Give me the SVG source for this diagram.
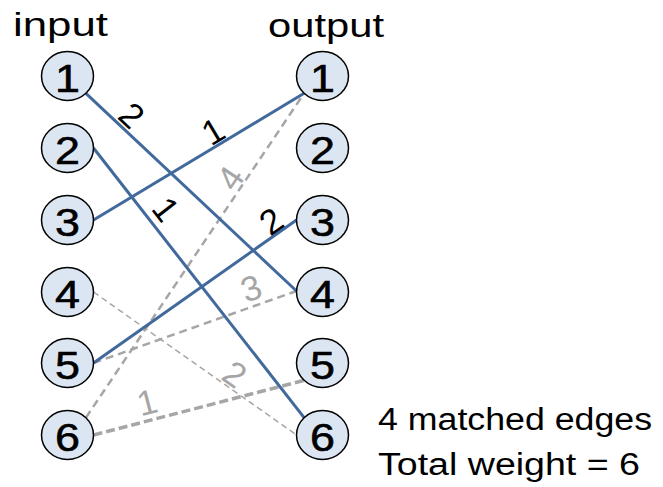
<svg xmlns="http://www.w3.org/2000/svg" width="663" height="487" viewBox="0 0 663 487">
<style>
.node ellipse{fill:#dce6f2;stroke:#000;stroke-width:1.5}
.node text{font-family:"Liberation Sans",Arial,sans-serif;font-size:39px;fill:#000;stroke:#000;stroke-width:0.6;text-anchor:middle}
.m{stroke:#41699c;stroke-width:3;fill:none}
.g{stroke:#a6a6a6;stroke-width:2.5;stroke-dasharray:8 5;fill:none}
.gt{stroke:#a6a6a6;stroke-width:1.5;stroke-dasharray:6 4;fill:none}
.gk{stroke:#a6a6a6;stroke-width:3.5;stroke-dasharray:9 4;fill:none}
.lb{font-family:"Liberation Sans",Arial,sans-serif;font-size:35px;text-anchor:middle}
.lk{fill:#000}
.lg{fill:#a6a6a6}
.hd{font-family:"Liberation Sans",Arial,sans-serif;font-size:34px;fill:#000}
.nt{font-family:"Liberation Sans",Arial,sans-serif;font-size:31px;fill:#000}
</style>
<rect width="663" height="487" fill="#fff"/>
<text class="hd" x="13" y="36" textLength="95" lengthAdjust="spacingAndGlyphs">input</text>
<text class="hd" x="268" y="37" textLength="116" lengthAdjust="spacingAndGlyphs">output</text>
<g id="connectors">
<line class="g" x1="85.9" y1="417.7" x2="304.1" y2="93.3"/>
<line class="g" x1="93.5" y1="363" x2="296.5" y2="291"/>
<line class="gt" x1="93.5" y1="292" x2="296.5" y2="435"/>
<line class="gk" x1="93.5" y1="435" x2="304.1" y2="380.3"/>
<line class="m" x1="85.9" y1="93.3" x2="296.5" y2="291"/>
<line class="m" x1="93.5" y1="148" x2="304.1" y2="417.7"/>
<line class="m" x1="93.5" y1="220" x2="304.1" y2="93.3"/>
<line class="m" x1="93.5" y1="363" x2="296.5" y2="220"/>
<g class="lb lk">
<text transform="translate(132,115) rotate(43.2)" y="12.5">2</text>
<text transform="translate(213,131) rotate(-31)" y="12.5">1</text>
<text transform="translate(166,209) rotate(52)" y="12.5">1</text>
<text transform="translate(271,221) rotate(-35.2)" y="12.5">2</text>
</g>
<g class="lb lg">
<text transform="translate(230,178) rotate(-56)" y="12.5">4</text>
<text transform="translate(251,288) rotate(-19.5)" y="12.5">3</text>
<text transform="translate(235,374) rotate(35.2)" y="12.5">2</text>
<text transform="translate(147,402) rotate(-14.6)" y="12.5">1</text>
</g>
</g>
<g id="in1" class="node"><ellipse cx="67.5" cy="76" rx="26" ry="24.5"/><text transform="translate(67.5,91.5) scale(1.15,1)">1</text></g>
<g id="in2" class="node"><ellipse cx="67.5" cy="148" rx="26" ry="24.5"/><text transform="translate(67.5,163.5) scale(1.15,1)">2</text></g>
<g id="in3" class="node"><ellipse cx="67.5" cy="220" rx="26" ry="24.5"/><text transform="translate(67.5,235.5) scale(1.15,1)">3</text></g>
<g id="in4" class="node"><ellipse cx="67.5" cy="292" rx="26" ry="24.5"/><text transform="translate(67.5,307.5) scale(1.15,1)">4</text></g>
<g id="in5" class="node"><ellipse cx="67.5" cy="363" rx="26" ry="24.5"/><text transform="translate(67.5,378.5) scale(1.15,1)">5</text></g>
<g id="in6" class="node"><ellipse cx="67.5" cy="435" rx="26" ry="24.5"/><text transform="translate(67.5,450.5) scale(1.15,1)">6</text></g>
<g id="out1" class="node"><ellipse cx="322.5" cy="76" rx="26" ry="24.5"/><text transform="translate(322.5,91.5) scale(1.15,1)">1</text></g>
<g id="out2" class="node"><ellipse cx="322.5" cy="148" rx="26" ry="24.5"/><text transform="translate(322.5,163.5) scale(1.15,1)">2</text></g>
<g id="out3" class="node"><ellipse cx="322.5" cy="220" rx="26" ry="24.5"/><text transform="translate(322.5,235.5) scale(1.15,1)">3</text></g>
<g id="out4" class="node"><ellipse cx="322.5" cy="292" rx="26" ry="24.5"/><text transform="translate(322.5,307.5) scale(1.15,1)">4</text></g>
<g id="out5" class="node"><ellipse cx="322.5" cy="363" rx="26" ry="24.5"/><text transform="translate(322.5,378.5) scale(1.15,1)">5</text></g>
<g id="out6" class="node"><ellipse cx="322.5" cy="435" rx="26" ry="24.5"/><text transform="translate(322.5,450.5) scale(1.15,1)">6</text></g>
<text class="nt" x="378" y="430" textLength="274" lengthAdjust="spacingAndGlyphs">4 matched edges</text>
<text class="nt" x="378" y="475" textLength="262" lengthAdjust="spacingAndGlyphs">Total weight = 6</text>
</svg>
